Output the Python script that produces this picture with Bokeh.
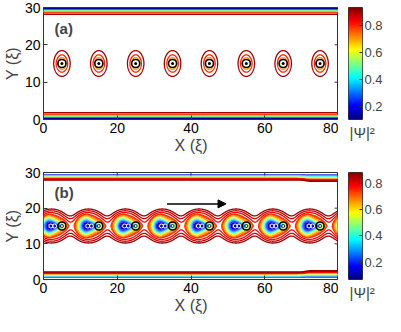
import numpy as np
from bokeh.plotting import figure
from bokeh.models import LinearColorMapper, Label, Arrow, NormalHead, FixedTicker, Title
from bokeh.layouts import column, row
from bokeh.embed import file_html
from bokeh.resources import INLINE

# ---------------- data ----------------
x_ticks = [0, 20, 40, 60, 80]
y_ticks = [0, 10, 20, 30]
cbar_ticks = [0.2, 0.4, 0.6, 0.8]

# panel (a): static vortex lattice
vort_x_a = [5, 15, 25, 35, 45, 55, 65, 75]
vort_y_a = [15, 15, 15, 15, 15, 15, 15, 15]
levels_a = [0.1, 0.2, 0.3, 0.4, 0.5, 0.6, 0.7, 0.8, 0.9]
cbar_lo_a, cbar_hi_a = 0.10, 0.93
wall_w_a = 1.0
vortex_a = [0.97, 0.55, 2.5]      # healing length, ellipticity, ellipticity scale

# panel (b): moving vortices with wakes (periodic images at -5 and 85)
vort_x_b = [5, 15, 25, 35, 45, 55, 65, 75]
vort_y_b = [15, 15, 15, 15, 15, 15, 15, 15]
image_x_b = [-5, 85]
levels_fill_b = [0.10, 0.14, 0.18, 0.22, 0.26, 0.30, 0.34, 0.38, 0.42, 0.46,
                 0.50, 0.54, 0.58, 0.62, 0.66, 0.70, 0.74]
levels_line_b = [0.74, 0.78, 0.82, 0.86]
cbar_lo_b, cbar_hi_b = 0.07, 0.88
wall_w_b = 1.3
wall_step_x_b = 71.0
wall_step_b = 0.2
core_b = 0.35
# blob: offset, x-size left, x-size right, taper, depth, radius, edge
blob_b = [-3.3, 0.92, 1.5, 0.15, 0.58, 2.0, 0.8]
# halo: offset, depth, radius, edge
halo_b = [-2.8, 0.30, 4.55, 1.9]
pair_dx_b = [-3.0, -2.0]
arrow_b = [33.5, 49.5, 21.2]


def jet(v):
    v = min(max(v, 0.0), 1.0)
    r = min(max(1.5 - abs(4 * v - 3), 0), 1)
    g = min(max(1.5 - abs(4 * v - 2), 0), 1)
    b = min(max(1.5 - abs(4 * v - 1), 0), 1)
    return "#%02x%02x%02x" % (int(r * 255), int(g * 255), int(b * 255))


palette = [jet(i / 255) for i in range(256)]

xs = np.linspace(0, 80, 1201)
ys = np.linspace(0, 30, 601)
X, Y = np.meshgrid(xs, ys)


def field_a():
    n = np.tanh(Y / wall_w_a) ** 2 * np.tanh((30 - Y) / wall_w_a) ** 2
    lam, ell, es = vortex_a
    for vx, vy in zip(vort_x_a, vort_y_a):
        dx, dy = X - vx, Y - vy
        r2 = dx ** 2 + dy ** 2
        e = 1 + ell * (1 - np.exp(-r2 / es))
        rho = np.sqrt(dx ** 2 + (dy / e) ** 2)
        n = n * (1 - np.exp(-rho / lam))
    return n


def field_b():
    w = wall_w_b + wall_step_b * 0.5 * (1 + np.tanh((X - wall_step_x_b) / 0.8))
    n = np.tanh(Y / w) ** 2 * np.tanh((30 - Y) / w) ** 2
    off, axl, axr, tap, A, R0, wd = blob_b
    hoff, T, Rt, wt = halo_b
    for vx in vort_x_b + image_x_b:
        vy = 15
        dxm, dym = X - vx, Y - vy
        r2 = dxm ** 2 + dym ** 2
        n = n * r2 / (r2 + core_b ** 2)
        dx = X - (vx + off)
        ax = np.where(dx < 0, axl, axr)
        ay = np.maximum(0.2, 1 - tap * np.maximum(dx, 0))
        r = np.sqrt((dx / ax) ** 2 + (dym / ay) ** 2)
        d = A * 0.5 * (1 - np.tanh((r - R0) / wd))
        rh = np.sqrt((X - (vx + hoff)) ** 2 + dym ** 2)
        d = d + T * 0.5 * (1 - np.tanh((rh - Rt) / wt))
        n = n * (1 - d)
    return n


FONT = "Liberation Sans"


def style_axis(ax):
    ax.major_tick_in = 4
    ax.major_tick_out = 0
    ax.minor_tick_line_color = None
    ax.axis_line_color = None
    ax.major_tick_line_color = "#333333"
    ax.major_label_text_font = FONT
    ax.major_label_text_font_size = "14px"
    ax.major_label_text_color = "black"
    ax.axis_label_text_font = FONT
    ax.axis_label_text_font_size = "16px"
    ax.axis_label_text_font_style = "normal"


def make_main(height, top, bottom, tag):
    p = figure(width=338, height=height, x_range=(0, 80), y_range=(0, 30),
               output_backend="svg", toolbar_location=None,
               min_border_left=42, min_border_right=0, min_border_top=top,
               min_border_bottom=bottom)
    p.grid.visible = False
    p.outline_line_color = "#333333"
    p.outline_line_width = 1
    p.xaxis.ticker = FixedTicker(ticks=x_ticks)
    p.yaxis.ticker = FixedTicker(ticks=y_ticks)
    style_axis(p.xaxis[0])
    style_axis(p.yaxis[0])
    p.xaxis.axis_label = "X (ξ)"
    p.yaxis.axis_label = "Y (ξ)"
    p.xaxis.major_label_standoff = 3
    p.yaxis.major_label_standoff = 3
    p.xaxis.axis_label_standoff = 1
    p.yaxis.axis_label_standoff = 1
    # mirrored inward ticks on top and right edges
    p.segment(x0=x_ticks, x1=x_ticks, y0=[30] * len(x_ticks),
              y1=[30 - 1.1] * len(x_ticks), line_color="#333333", line_width=1)
    p.segment(x0=[80] * len(y_ticks), x1=[80 - 1.05] * len(y_ticks),
              y0=y_ticks, y1=y_ticks, line_color="#333333", line_width=1)
    p.add_layout(Label(x=3, y=24.5, text=tag, text_font=FONT,
                       text_font_style="bold", text_font_size="15px",
                       text_baseline="middle"))
    return p


def make_cbar(height, top, bottom, lo, hi):
    c = figure(width=47, height=height, x_range=(0, 1), y_range=(lo, hi),
               output_backend="svg", toolbar_location=None,
               y_axis_location="right", x_axis_location=None,
               min_border_left=10, min_border_right=0, min_border_top=top,
               min_border_bottom=bottom)
    c.grid.visible = False
    c.outline_line_color = "#333333"
    mapper = LinearColorMapper(palette=palette, low=lo, high=hi)
    grad = np.linspace(lo, hi, 256).reshape(-1, 1)
    c.image(image=[grad], x=0, y=lo, dw=1, dh=hi - lo, color_mapper=mapper)
    ya = c.yaxis[0]
    ya.ticker = FixedTicker(ticks=cbar_ticks)
    ya.major_tick_in = 3
    ya.major_tick_out = 0
    ya.minor_tick_line_color = None
    ya.axis_line_color = None
    ya.major_tick_line_color = "#333333"
    ya.major_label_text_font = FONT
    ya.major_label_text_font_size = "13px"
    ya.major_label_standoff = 2
    c.add_layout(Title(text="|Ψ|²", align="left", offset=1, standoff=4,
                       text_font=FONT, text_font_size="15px",
                       text_font_style="normal"), "below")
    return c


# ---- panel (a)
pa = make_main(160, 7, 41, "(a)")
cols_a = [jet((lv - cbar_lo_a) / (cbar_hi_a - cbar_lo_a)) for lv in levels_a]
pa.contour(xs, ys, field_a(), levels_a, line_color=cols_a, line_width=1.3,
           fill_color=None)
pa.scatter(vort_x_a, vort_y_a, size=8, marker="circle", fill_color="white",
           line_color="black", line_width=1.6)
pa.scatter(vort_x_a, vort_y_a, size=3, marker="circle", fill_color="black",
           line_color=None)
ca = make_cbar(160, 7, 41, cbar_lo_a, cbar_hi_a)

# ---- panel (b)
pb = make_main(156, 12, 34, "(b)")
zb = field_b()
fill_cols = [jet((lv - cbar_lo_b) / (cbar_hi_b - cbar_lo_b)) for lv in levels_fill_b[:-1]]
pb.contour(xs, ys, zb, levels_fill_b, fill_color=fill_cols, line_color=None)
line_cols = [jet((lv - cbar_lo_b) / (cbar_hi_b - cbar_lo_b)) for lv in levels_line_b]
pb.contour(xs, ys, zb, levels_line_b, line_color=line_cols, line_width=1.3,
           fill_color=None)
for d in pair_dx_b:
    pb.scatter([v + d for v in vort_x_b], vort_y_b, size=4, marker="circle",
               fill_color=None, line_color="white", line_width=1)
pb.scatter(vort_x_b, vort_y_b, size=8, marker="circle", fill_color=None,
           line_color="black", line_width=1.6)
pb.scatter(vort_x_b, vort_y_b, size=3, marker="circle", fill_color="white",
           line_color="black", line_width=0.8)
pb.add_layout(Arrow(x_start=arrow_b[0], x_end=arrow_b[1], y_start=arrow_b[2],
                    y_end=arrow_b[2], line_color="black", line_width=1.5,
                    end=NormalHead(size=8, fill_color="black", line_color="black")))
cb = make_cbar(156, 12, 34, cbar_lo_b, cbar_hi_b)

layout = column(row(pa, ca, spacing=0), row(pb, cb, spacing=0), spacing=0)
open("out.html", "w").write(file_html(layout, INLINE))
